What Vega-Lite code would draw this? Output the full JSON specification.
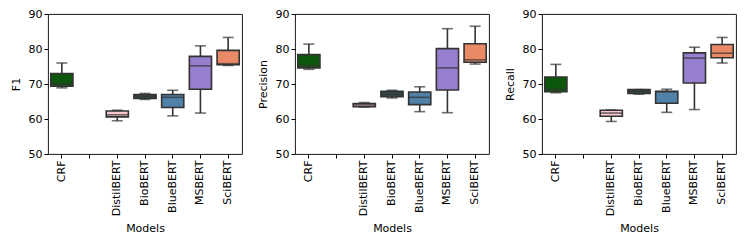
{
  "$schema": "https://vega.github.io/schema/vega-lite/v6.json",
  "padding": {"left": 9, "top": 7, "right": 10, "bottom": 5},
  "background": "white",
  "bounds": "flush",
  "spacing": 53,
  "config": {
    "font": "DejaVu Sans",
    "view": {"stroke": "#000", "strokeWidth": 0.9},
    "axis": {"grid": false, "domain": false, "tickColor": "#000", "tickSize": 4, "labelFontSize": 11, "titleFontSize": 11, "titleFontWeight": "normal", "labelColor": "#000", "titleColor": "#000", "labelPadding": 2, "labelOverlap": false},
    "axisY": {"values": [50, 60, 70, 80, 90], "titlePadding": 7},
    "axisX": {"labelAngle": -90, "titlePadding": 7}
  },
  "data": {"values": [
    {"metric": "F1", "model": "CRF", "min": 68.9, "q1": 69.4, "median": 70.0, "q3": 73.0, "max": 76.0},
    {"metric": "F1", "model": "DistilBERT", "min": 59.5, "q1": 60.6, "median": 61.2, "q3": 62.3, "max": 62.5},
    {"metric": "F1", "model": "BioBERT", "min": 65.6, "q1": 65.9, "median": 66.5, "q3": 67.0, "max": 67.3},
    {"metric": "F1", "model": "BlueBERT", "min": 60.9, "q1": 63.3, "median": 66.2, "q3": 67.0, "max": 68.2},
    {"metric": "F1", "model": "MSBERT", "min": 61.7, "q1": 68.5, "median": 75.2, "q3": 77.9, "max": 80.9},
    {"metric": "F1", "model": "SciBERT", "min": 75.3, "q1": 75.5, "median": 75.8, "q3": 79.6, "max": 83.3},
    {"metric": "Precision", "model": "CRF", "min": 74.2, "q1": 74.6, "median": 75.3, "q3": 78.4, "max": 81.4},
    {"metric": "Precision", "model": "DistilBERT", "min": 63.4, "q1": 63.5, "median": 64.0, "q3": 64.4, "max": 64.7},
    {"metric": "Precision", "model": "BioBERT", "min": 66.0, "q1": 66.4, "median": 67.1, "q3": 67.9, "max": 68.2},
    {"metric": "Precision", "model": "BlueBERT", "min": 62.1, "q1": 64.1, "median": 66.2, "q3": 67.7, "max": 69.2},
    {"metric": "Precision", "model": "MSBERT", "min": 61.8, "q1": 68.3, "median": 74.6, "q3": 80.1, "max": 85.8},
    {"metric": "Precision", "model": "SciBERT", "min": 75.7, "q1": 76.2, "median": 76.9, "q3": 81.5, "max": 86.5},
    {"metric": "Recall", "model": "CRF", "min": 67.5, "q1": 67.8, "median": 68.5, "q3": 72.0, "max": 75.6},
    {"metric": "Recall", "model": "DistilBERT", "min": 59.3, "q1": 60.8, "median": 61.7, "q3": 62.5, "max": 62.6},
    {"metric": "Recall", "model": "BioBERT", "min": 67.1, "q1": 67.3, "median": 67.9, "q3": 68.4, "max": 68.4},
    {"metric": "Recall", "model": "BlueBERT", "min": 61.9, "q1": 64.5, "median": 67.8, "q3": 67.9, "max": 68.5},
    {"metric": "Recall", "model": "MSBERT", "min": 62.7, "q1": 70.3, "median": 77.4, "q3": 78.9, "max": 80.5},
    {"metric": "Recall", "model": "SciBERT", "min": 76.0, "q1": 77.5, "median": 78.8, "q3": 81.3, "max": 83.3}
  ]},
  "hconcat": [
    {
      "width": 194, "height": 140,
      "transform": [{"filter": "datum.metric === 'F1'"}],
      "encoding": {
        "x": {"field": "model", "type": "nominal", "title": "Models",
              "scale": {"domain": ["CRF", " ", "DistilBERT", "BioBERT", "BlueBERT", "MSBERT", "SciBERT"], "paddingInner": 0, "paddingOuter": 0}}
      },
      "layer": [
        {"mark": {"type": "rule", "color": "#333333", "strokeWidth": 1.6},
         "encoding": {"y": {"field": "min", "type": "quantitative", "title": "F1", "scale": {"domain": [50, 90], "nice": false, "zero": false}}, "y2": {"field": "max"}}},
        {"mark": {"type": "bar", "stroke": "#333333", "strokeWidth": 1.6, "width": {"band": 0.8}},
         "encoding": {"y": {"field": "q1", "type": "quantitative"}, "y2": {"field": "q3"},
           "color": {"field": "model", "type": "nominal", "legend": null, "scale": {"domain": ["CRF", "DistilBERT", "BioBERT", "BlueBERT", "MSBERT", "SciBERT"], "range": ["#0c570c", "#f7c8d0", "#334b4b", "#5081a8", "#987ece", "#e98966"]}}}},
        {"mark": {"type": "tick", "color": "#333333", "thickness": 1.6, "size": 22},
         "encoding": {"y": {"field": "median", "type": "quantitative"}}},
        {"mark": {"type": "tick", "color": "#333333", "thickness": 1.6, "size": 11},
         "encoding": {"y": {"field": "min", "type": "quantitative"}}},
        {"mark": {"type": "tick", "color": "#333333", "thickness": 1.6, "size": 11},
         "encoding": {"y": {"field": "max", "type": "quantitative"}}}
      ]
    },
    {
      "width": 194, "height": 140,
      "transform": [{"filter": "datum.metric === 'Precision'"}],
      "encoding": {
        "x": {"field": "model", "type": "nominal", "title": "Models",
              "scale": {"domain": ["CRF", " ", "DistilBERT", "BioBERT", "BlueBERT", "MSBERT", "SciBERT"], "paddingInner": 0, "paddingOuter": 0}}
      },
      "layer": [
        {"mark": {"type": "rule", "color": "#333333", "strokeWidth": 1.6},
         "encoding": {"y": {"field": "min", "type": "quantitative", "title": "Precision", "scale": {"domain": [50, 90], "nice": false, "zero": false}}, "y2": {"field": "max"}}},
        {"mark": {"type": "bar", "stroke": "#333333", "strokeWidth": 1.6, "width": {"band": 0.8}},
         "encoding": {"y": {"field": "q1", "type": "quantitative"}, "y2": {"field": "q3"},
           "color": {"field": "model", "type": "nominal", "legend": null, "scale": {"domain": ["CRF", "DistilBERT", "BioBERT", "BlueBERT", "MSBERT", "SciBERT"], "range": ["#0c570c", "#f7c8d0", "#334b4b", "#5081a8", "#987ece", "#e98966"]}}}},
        {"mark": {"type": "tick", "color": "#333333", "thickness": 1.6, "size": 22},
         "encoding": {"y": {"field": "median", "type": "quantitative"}}},
        {"mark": {"type": "tick", "color": "#333333", "thickness": 1.6, "size": 11},
         "encoding": {"y": {"field": "min", "type": "quantitative"}}},
        {"mark": {"type": "tick", "color": "#333333", "thickness": 1.6, "size": 11},
         "encoding": {"y": {"field": "max", "type": "quantitative"}}}
      ]
    },
    {
      "width": 194, "height": 140,
      "transform": [{"filter": "datum.metric === 'Recall'"}],
      "encoding": {
        "x": {"field": "model", "type": "nominal", "title": "Models",
              "scale": {"domain": ["CRF", " ", "DistilBERT", "BioBERT", "BlueBERT", "MSBERT", "SciBERT"], "paddingInner": 0, "paddingOuter": 0}}
      },
      "layer": [
        {"mark": {"type": "rule", "color": "#333333", "strokeWidth": 1.6},
         "encoding": {"y": {"field": "min", "type": "quantitative", "title": "Recall", "scale": {"domain": [50, 90], "nice": false, "zero": false}}, "y2": {"field": "max"}}},
        {"mark": {"type": "bar", "stroke": "#333333", "strokeWidth": 1.6, "width": {"band": 0.8}},
         "encoding": {"y": {"field": "q1", "type": "quantitative"}, "y2": {"field": "q3"},
           "color": {"field": "model", "type": "nominal", "legend": null, "scale": {"domain": ["CRF", "DistilBERT", "BioBERT", "BlueBERT", "MSBERT", "SciBERT"], "range": ["#0c570c", "#f7c8d0", "#334b4b", "#5081a8", "#987ece", "#e98966"]}}}},
        {"mark": {"type": "tick", "color": "#333333", "thickness": 1.6, "size": 22},
         "encoding": {"y": {"field": "median", "type": "quantitative"}}},
        {"mark": {"type": "tick", "color": "#333333", "thickness": 1.6, "size": 11},
         "encoding": {"y": {"field": "min", "type": "quantitative"}}},
        {"mark": {"type": "tick", "color": "#333333", "thickness": 1.6, "size": 11},
         "encoding": {"y": {"field": "max", "type": "quantitative"}}}
      ]
    }
  ],
  "resolve": {"scale": {"color": "shared"}}
}
